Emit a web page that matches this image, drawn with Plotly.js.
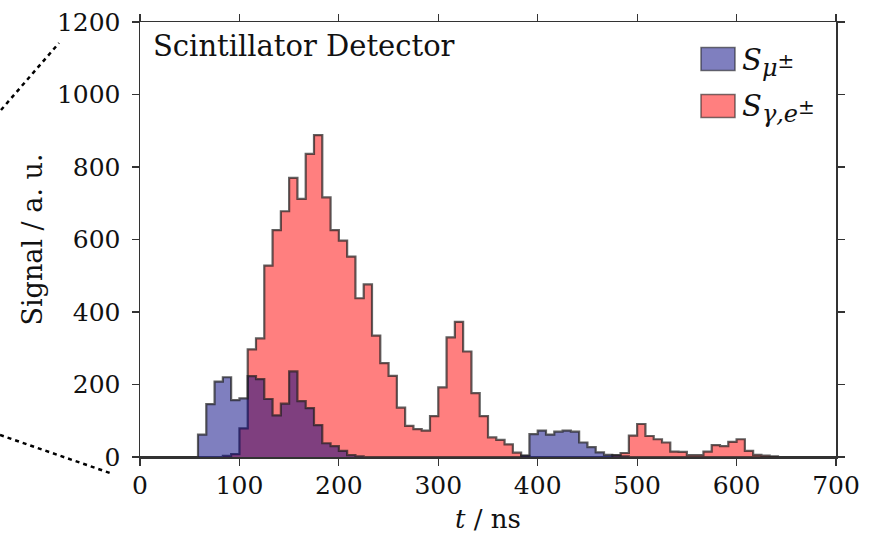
<!DOCTYPE html>
<html>
<head>
<meta charset="utf-8">
<script src="https://cdn.plot.ly/plotly-3.0.1.min.js"></script>
<style>html,body{margin:0;padding:0;background:#fff}#chart{width:875px;height:536px}</style>
</head>
<body>
<div id="chart"></div>
<script>
// Histogram: 84 bins spanning 0-700 ns
const tMin = 0;
const tMax = 700;
const nBins = 84;

// S_mu± (muon) signal per bin
const signalMu = [
  0, 0, 0, 0, 0, 0, 0, 62, 146, 208,
  220, 157, 162, 223, 215, 160, 115, 147, 236, 154,
  135, 88, 38, 30, 17, 5, 2, 0, 0, 0,
  0, 0, 0, 0, 0, 0, 0, 0, 0, 0,
  0, 0, 0, 0, 0, 0, 4, 63, 73, 62,
  70, 73, 70, 40, 27, 13, 6, 4, 2, 0,
  0, 0, 0, 0, 0, 0, 0, 0, 0, 0,
  0, 0, 0, 0, 0, 0, 0, 0, 0, 0,
  0, 0, 0, 0
];

// S_gamma,e± signal per bin
const signalGammaE = [
  0, 0, 0, 0, 0, 0, 0, 0, 0, 0,
  3, 8, 79, 297, 327, 528, 626, 678, 770, 712,
  836, 888, 716, 626, 597, 553, 438, 476, 335, 259,
  224, 136, 86, 77, 73, 113, 192, 330, 373, 291,
  176, 113, 54, 47, 35, 12, 3, 0, 0, 0,
  0, 0, 0, 0, 0, 0, 0, 5, 11, 59,
  91, 58, 49, 40, 15, 14, 5, 5, 15, 33,
  30, 42, 49, 17, 6, 4, 2, 0, 0, 0,
  0, 0, 0, 0
];

const xTicks = [0, 100, 200, 300, 400, 500, 600, 700];
const yTicks = [0, 200, 400, 600, 800, 1000, 1200];

const binW = (tMax - tMin) / nBins;
const edges = [];
for (let i = 0; i <= nBins; i++) edges.push(tMin + i * binW);
function stepY(v) { return v.concat([v[v.length - 1]]); }

const lineCol = 'rgba(30,30,30,0.7)';
const blueFill = 'rgba(0,0,128,0.5)';
const redFill = 'rgba(255,0,0,0.5)';
const serif = 'DejaVu Serif, serif';

const traces = [
  {x: edges, y: stepY(signalGammaE), type: 'scatter', mode: 'lines',
   line: {shape: 'hv', color: lineCol, width: 2.2}, fill: 'tozeroy', fillcolor: redFill,
   name: 'S_gamma,e', showlegend: false, hoverinfo: 'skip'},
  {x: edges, y: stepY(signalMu), type: 'scatter', mode: 'lines',
   line: {shape: 'hv', color: lineCol, width: 2.2}, fill: 'tozeroy', fillcolor: blueFill,
   name: 'S_mu', showlegend: false, hoverinfo: 'skip'}
];

const W = 696, H = 435;
function px(x) { return (x - 140) / W; }
function py(y) { return (457 - y) / H; }

const subMu = '<i>S</i><sub><span style="font-size:24px"><i>μ</i></span><sup><span style="font-size:20px">±</span></sup></sub>';
const subGe = '<i>S</i><sub><span style="font-size:24px"><i>γ,e</i></span><sup><span style="font-size:20px">±</span></sup></sub>';

const layout = {
  width: 875, height: 536,
  margin: {l: 140, r: 39, t: 22, b: 79},
  paper_bgcolor: '#fff', plot_bgcolor: '#fff',
  font: {family: serif, color: '#111', size: 24},
  xaxis: {
    range: [tMin, tMax], tickvals: xTicks, ticktext: xTicks.map(String),
    showline: true, mirror: 'ticks', linecolor: '#333', linewidth: 1.5,
    ticks: 'outside', ticklen: 7, tickwidth: 1.2, tickcolor: '#333',
    showgrid: false, zeroline: false, ticklabelstandoff: -2,
    tickfont: {family: serif, size: 25, color: '#111'},
    title: {text: '<i>t</i> / ns', font: {family: serif, size: 26, color: '#111'}, standoff: 11}
  },
  yaxis: {
    range: [0, 1200], tickvals: yTicks, ticktext: yTicks.map(String),
    showline: true, mirror: 'ticks', linecolor: '#333', linewidth: 1.5,
    ticks: 'outside', ticklen: 7, tickwidth: 1.2, tickcolor: '#333',
    showgrid: false, zeroline: false, ticklabelstandoff: 6,
    tickfont: {family: serif, size: 25, color: '#111'},
    title: {text: 'Signal / a. u.', font: {family: serif, size: 27, color: '#111'}, standoff: 6}
  },
  shapes: [
    {type: 'line', xref: 'paper', yref: 'paper', x0: px(1), y0: py(110), x1: px(59), y1: py(43),
     line: {color: '#000', width: 2.5, dash: '4px,4px'}},
    {type: 'line', xref: 'paper', yref: 'paper', x0: px(0), y0: py(435), x1: px(110), y1: py(473),
     line: {color: '#000', width: 2.5, dash: '4px,4px'}},
    {type: 'rect', xref: 'paper', yref: 'paper', x0: px(701), x1: px(735), y0: py(47.5), y1: py(70.5),
     fillcolor: blueFill, line: {color: 'rgba(30,30,30,0.6)', width: 1.5}},
    {type: 'rect', xref: 'paper', yref: 'paper', x0: px(701), x1: px(735), y0: py(94.5), y1: py(117.5),
     fillcolor: redFill, line: {color: 'rgba(30,30,30,0.6)', width: 1.5}}
  ],
  annotations: [
    {xref: 'paper', yref: 'paper', x: px(151), y: py(27), xanchor: 'left', yanchor: 'top',
     text: 'Scintillator Detector', showarrow: false, font: {family: serif, size: 29, color: '#111'}},
    {xref: 'paper', yref: 'paper', x: px(740), y: py(62), xanchor: 'left', yanchor: 'middle',
     text: subMu, showarrow: false, font: {family: serif, size: 29, color: '#111'}},
    {xref: 'paper', yref: 'paper', x: px(740), y: py(109), xanchor: 'left', yanchor: 'middle',
     text: subGe, showarrow: false, font: {family: serif, size: 29, color: '#111'}}
  ]
};

Plotly.newPlot('chart', traces, layout, {staticPlot: true, displayModeBar: false});
</script>
</body>
</html>
